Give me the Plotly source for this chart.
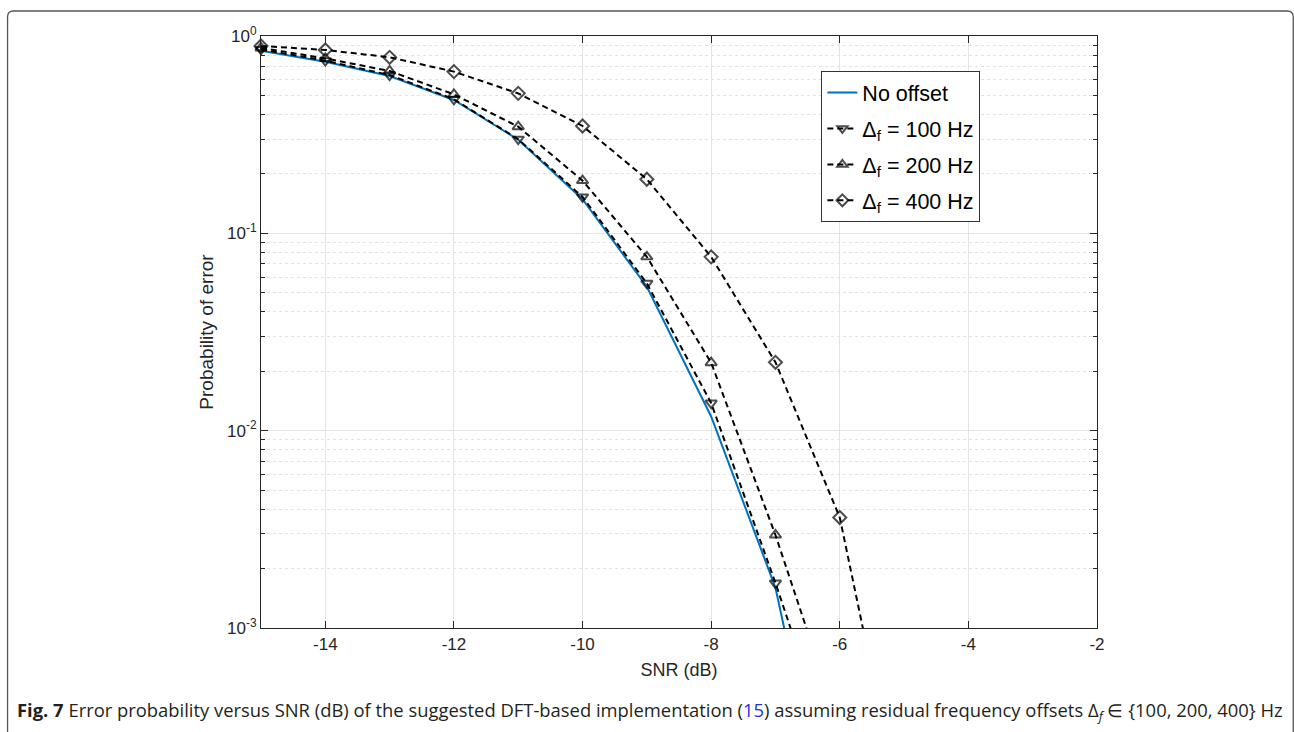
import plotly.graph_objects as go

# ---- data ----
snr_a = [-15, -14, -13, -12, -11, -10, -9, -8, -7, -6]
snr_b = [-15, -14, -13, -12, -11, -10, -9, -8, -7, -6, -5]

p_no_offset = [0.842, 0.74, 0.627, 0.474, 0.298, 0.149, 0.0536, 0.0118, 0.0016, 5e-5]
p_100 = [0.855, 0.75, 0.634, 0.478, 0.30, 0.153, 0.0558, 0.0138, 0.00169, 1.8e-4]
p_200 = [0.87, 0.77, 0.665, 0.506, 0.347, 0.185, 0.076, 0.0221, 0.00296, 3.1e-4]
p_400 = [0.89, 0.85, 0.78, 0.66, 0.512, 0.35, 0.188, 0.076, 0.0222, 0.00363, 1.0e-4]

names = ["No offset", "Δ<sub>f</sub> = 100 Hz", "Δ<sub>f</sub> = 200 Hz", "Δ<sub>f</sub> = 400 Hz"]
x_ticks = [-14, -12, -10, -8, -6, -4, -2]
x_ticktext = ["-14", "-12", "-10", "-8", "-6", "-4", "-2"]
y_ticks = [1e-3, 1e-2, 1e-1, 1]
y_ticktext = ["10<sup>-3</sup>", "10<sup>-2</sup>", "10<sup>-1</sup>", "10<sup>0</sup>"]

YMIN = 1e-3
FONT = "Liberation Sans, Arial, sans-serif"
TXT = "#262626"

fig = go.Figure()

fig.add_trace(go.Scatter(x=snr_a, y=p_no_offset, mode="lines", name=names[0],
                         legendgroup="g0",
                         line=dict(color="#0072BD", width=2)))

def sizes(vals, s):
    return [s if v >= YMIN else 0 for v in vals]

for i, (xs, ys, nm, sym) in enumerate([(snr_a, p_100, names[1], "triangle-down-open"),
                                       (snr_a, p_200, names[2], "triangle-up-open"),
                                       (snr_b, p_400, names[3], "diamond-open")]):
    fig.add_trace(go.Scatter(
        x=xs, y=ys, mode="lines+markers", name=nm, cliponaxis=False,
        legendgroup=f"g{i+1}",
        line=dict(color="black", width=2, dash="6px,4px"),
        marker=dict(symbol=sym, size=sizes(ys, 10), color="black",
                    line=dict(color="black", width=2))))

L, R, T, B = 260.5, 1096.7, 36, 628
W, H = 1294, 732
pw, ph = R - L, B - T

def px(x):
    return (x - L) / pw

def py(y):
    return (B - y) / ph

minor_vals = []
for d in [1e-3, 1e-2, 1e-1]:
    for k in range(2, 10):
        minor_vals.append(k * d)

fig.update_layout(
    width=W, height=H,
    margin=dict(l=L, r=W - R, t=T, b=H - B),
    paper_bgcolor="white", plot_bgcolor="white",
    font=dict(family=FONT, color=TXT),
    showlegend=True,
    legend=dict(x=px(821), y=py(71), xanchor="left", yanchor="top",
                bgcolor="white", bordercolor="#333333", borderwidth=1,
                font=dict(family=FONT, size=21.5, color="black"),
                itemwidth=30, tracegroupgap=5),
    xaxis=dict(range=[-15, -2], tickvals=x_ticks, ticktext=x_ticktext,
               ticks="inside", ticklen=7,
               tickcolor="#262626", showline=True, linecolor="#262626", linewidth=1.2,
               mirror="ticks", showgrid=True, gridcolor="#e3e3e3", gridwidth=1,
               zeroline=False, tickfont=dict(family=FONT, size=17, color=TXT),
               title=dict(text="SNR (dB)", font=dict(family=FONT, size=18, color=TXT),
                          standoff=10)),
    yaxis=dict(type="log", range=[-3, 0], tickvals=y_ticks, ticktext=y_ticktext,
               ticks="inside", ticklen=7, tickcolor="#262626",
               showline=True, linecolor="#262626", linewidth=1.2, mirror="ticks",
               showgrid=True, gridcolor="#e3e3e3", gridwidth=1, zeroline=False,
               tickfont=dict(family=FONT, size=17, color=TXT),
               minor=dict(tickvals=minor_vals, ticks="inside", ticklen=4,
                          tickcolor="#262626", showgrid=True, gridcolor="#e2e2e2",
                          griddash="dot", gridwidth=1),
               title=dict(text="Probability of error",
                          font=dict(family=FONT, size=19, color=TXT), standoff=8)),
)

# caption
caption = ("<b>Fig. 7</b> Error probability versus SNR (dB) of the suggested DFT-based "
           "implementation (<span style='color:#2b2bd9'>15</span>) assuming residual "
           "frequency offsets Δ<sub><i>f</i></sub> ∈ {100, 200, 400} Hz")
fig.add_annotation(text=caption, xref="paper", yref="paper", x=px(14), y=py(711),
                   xanchor="left", yanchor="middle", showarrow=False,
                   font=dict(family="Open Sans, sans-serif", size=18.4, color="#231f20"))

# outer rounded frame
x0, x1 = px(7), px(1293)
y0, y1 = py(11), py(745)
rx, ry = 6 / pw, 6 / ph
path = (f"M {x0} {y1} L {x0} {y0 - ry} Q {x0} {y0} {x0 + rx} {y0} "
        f"L {x1 - rx} {y0} Q {x1} {y0} {x1} {y0 - ry} L {x1} {y1}")
fig.add_shape(type="path", path=path, xref="paper", yref="paper",
              line=dict(color="#555555", width=1.3))

fig.write_html("out.html")
